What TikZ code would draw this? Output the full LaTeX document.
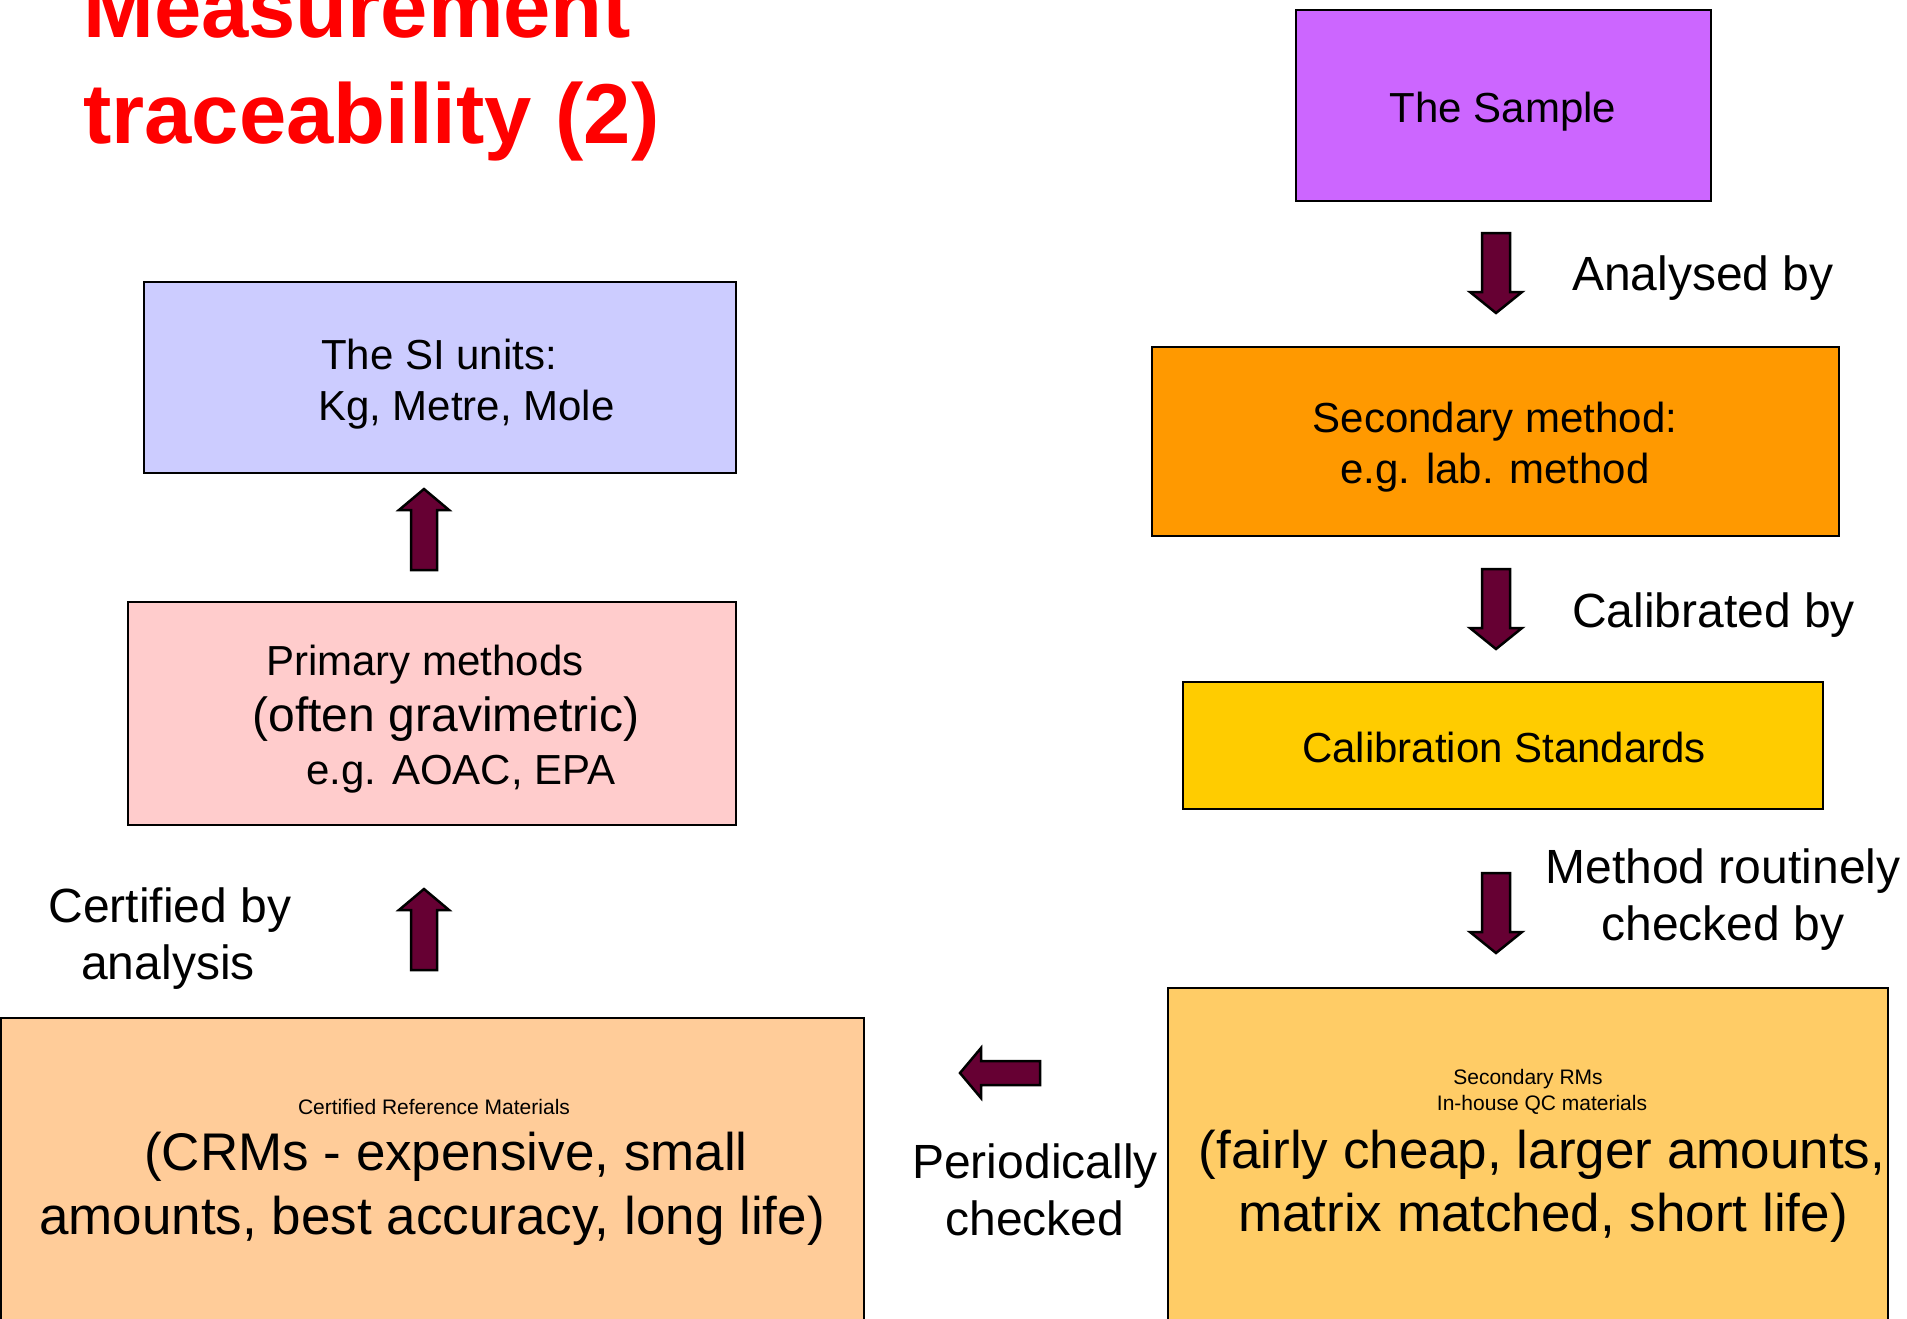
\documentclass[tikz,border=0pt]{standalone}
\usepackage{fontspec}
\setmainfont{Liberation Sans}
\usetikzlibrary{fit}

\definecolor{samplefill}{HTML}{CC66FF}
\definecolor{sifill}{HTML}{CCCCFF}
\definecolor{secfill}{HTML}{FF9900}
\definecolor{primfill}{HTML}{FFCCCC}
\definecolor{calfill}{HTML}{FFCC00}
\definecolor{crmfill}{HTML}{FFCC99}
\definecolor{rmfill}{HTML}{FFCC66}
\definecolor{arrowred}{HTML}{660033}
\definecolor{titlered}{HTML}{FF0000}

\newcommand\setsize[1]{\fontsize{#1}{#1}\selectfont}

\tikzset{
  box/.style={draw=black, line width=2pt, inner sep=0pt},
  txt/.style={anchor=base, inner sep=0pt, font=\setsize{42}},
  lbl/.style={anchor=base, inner sep=0pt, font=\setsize{48}},
  small/.style={anchor=base, inner sep=0pt, font=\setsize{21}},
  big/.style={anchor=base, inner sep=0pt, font=\setsize{53}},
  titletxt/.style={anchor=base west, inner sep=0pt, text=titlered,
    font=\bfseries\setsize{85}},
  blockarrow/.style={fill=arrowred, draw=black, line width=2.5pt, line join=miter},
  % block arrow pointing up, drawn from the middle of its base
  uparrow/.pic={\path[blockarrow] (-13,0) -- (-13,-60) -- (-25,-60) -- (0,-81)
      -- (25,-60) -- (13,-60) -- (13,0) -- cycle;},
  % block arrow pointing down, drawn from the middle of its top
  downarrow/.pic={\path[blockarrow] (-14,0) -- (-14,59) -- (-26,59) -- (0,80)
      -- (26,59) -- (14,59) -- (14,0) -- cycle;},
  % block arrow pointing left, drawn from the middle of its tail
  leftarrow/.pic={\path[blockarrow] (0,-12) -- (-59,-12) -- (-59,-25) -- (-80,0)
      -- (-59,25) -- (-59,12) -- (0,12) -- cycle;},
}

\begin{document}
\begin{tikzpicture}[x=1pt, y=-1pt]
\useasboundingbox (0,0) rectangle (1907,1318);
\fill[white] (0,0) rectangle (1907,1318);
\clip (0,0) rectangle (1907,1318);

% title
\node[titletxt] (title1) at (83,37) {Measurement};
\node[titletxt] (title2) at (83,143) {traceability (2)};

% boxes
\node[box, fill=samplefill, fit={(1296,10) (1711,201)}] (sample) {};
\node[box, fill=sifill, fit={(143.5,282) (736,473)}] (si) {};
\node[box, fill=secfill, fit={(1152,347) (1839,536)}] (secm) {};
\node[box, fill=primfill, fit={(128,602) (736,825)}] (prim) {};
\node[box, fill=calfill, fit={(1183,682) (1823,809)}] (cal) {};
\node[box, fill=crmfill, fit={(1,1018) (863.5,1345)}] (crm) {};
\node[box, fill=rmfill, fit={(1167.5,987.5) (1887.5,1345)}] (srm) {};

% box texts
\node[txt] (sampleT) at (1503,122) {The Sample};
\node[txt, anchor=base west] (siT1) at (321,369) {The SI units:};
\node[txt, anchor=base west] (siT2) at (318,420) {Kg, Metre, Mole};
\node[txt] (secT1) at (1495,432) {Secondary method:};
\node[txt] (secT2) at (1495,483) {e.g. lab. method};
\node[txt] (primT1) at (425,675) {Primary methods};
\node[lbl] (primT2) at (446,731) {(often gravimetric)};
\node[txt] (primT3) at (461,784) {e.g. AOAC, EPA};
\node[txt] (calT) at (1504,762) {Calibration Standards};
\node[small] (crmT1) at (434,1114) {Certified Reference Materials};
\node[big] (crmT2) at (446,1170) {(CRMs - expensive, small};
\node[big] (crmT3) at (432,1234) {amounts, best accuracy, long life)};
\node[small] (srmT1) at (1528,1084) {Secondary RMs};
\node[small] (srmT2) at (1542,1110) {In-house QC materials};
\node[big] (srmT3) at (1542,1168) {(fairly cheap, larger amounts,};
\node[big] (srmT4) at (1543,1231) {matrix matched, short life)};

% side labels
\node[lbl, anchor=base west] (analysed) at (1572,290) {Analysed by};
\node[lbl, anchor=base west] (calibrated) at (1572,627) {Calibrated by};
\node[lbl] (routine1) at (1723,883) {Method routinely};
\node[lbl] (routine2) at (1723,940) {checked by};
\node[lbl] (certified1) at (170,922) {Certified by};
\node[lbl] (certified2) at (168,979) {analysis};
\node[lbl] (periodic1) at (1035,1178) {Periodically};
\node[lbl] (periodic2) at (1035,1235) {checked};

% block arrows
\pic at (424,570) {uparrow};
\pic at (424,970) {uparrow};
\pic at (1496,233) {downarrow};
\pic at (1496,569) {downarrow};
\pic at (1496,873) {downarrow};
\pic at (1040,1073) {leftarrow};
\end{tikzpicture}
\end{document}
